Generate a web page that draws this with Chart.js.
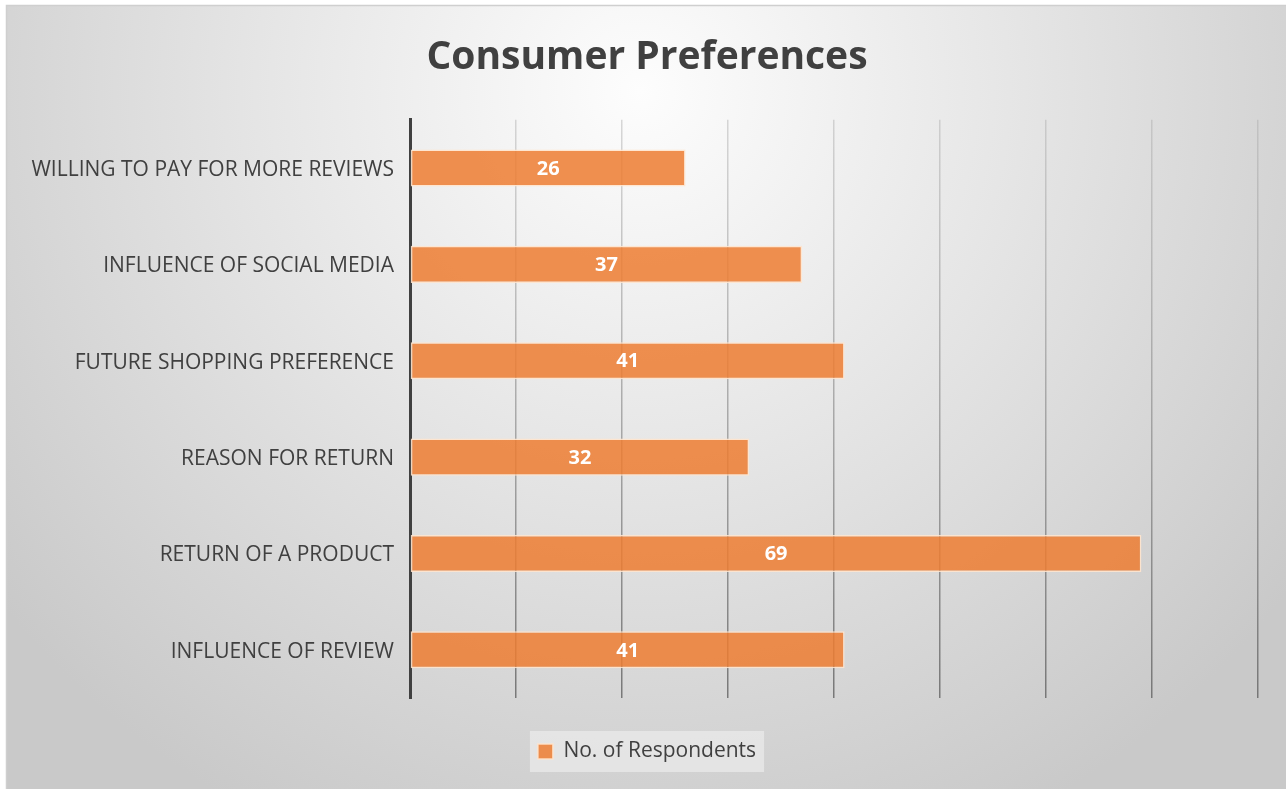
<!DOCTYPE html>
<html>
<head>
<meta charset="utf-8">
<script src="https://cdn.jsdelivr.net/npm/chart.js@4.4.1/dist/chart.umd.min.js"></script>
<style>
  html, body { margin: 0; padding: 0; background: #fff; }
  #wrap { width: 1286px; height: 789px; position: relative; }
</style>
</head>
<body>
<div id="wrap"><canvas id="myChart" width="1286" height="789"></canvas></div>
<script>
// data
const categories = [
  "WILLING TO PAY FOR MORE REVIEWS",
  "INFLUENCE OF SOCIAL MEDIA",
  "FUTURE SHOPPING PREFERENCE",
  "REASON FOR RETURN",
  "RETURN OF A PRODUCT",
  "INFLUENCE OF REVIEW"
];
const respondents = [26, 37, 41, 32, 69, 41];
const seriesName = "No. of Respondents";
const xMax = 80;
const xStep = 10;

const textColor = "#404040";

// background, frame and legend box
const bgPlugin = {
  id: "bgPlugin",
  afterLayout(chart) {
    // title and legend sit a bit right of the full-width centre
    const dx = 15;
    [chart.titleBlock, chart.legend].forEach(b => {
      if (b) { b.left += dx; b.right += dx; }
    });
    if (chart.legend && chart.legend.legendHitBoxes) {
      chart.legend.legendHitBoxes.forEach(h => { h.left += dx; });
    }
  },
  beforeDraw(chart) {
    const c = chart.ctx;
    const w = chart.width, h = chart.height;
    c.save();
    c.fillStyle = "#ffffff";
    c.fillRect(0, 0, w, h);
    const g = c.createRadialGradient(640, 90, 0, 640, 90, 820);
    g.addColorStop(0, "#fdfdfd");
    g.addColorStop(0.45, "#e6e6e6");
    g.addColorStop(1, "#c9c9c9");
    c.fillStyle = g;
    c.fillRect(6, 5, w - 6, h - 5);
    c.strokeStyle = "#cfcfcf";
    c.lineWidth = 1.5;
    c.strokeRect(6.5, 5.5, w, h);
    // legend background box
    const boxes = chart.legend && chart.legend.legendHitBoxes;
    if (boxes && boxes.length) {
      const b = boxes[0];
      c.fillStyle = "rgba(240,240,240,0.6)";
      c.fillRect(b.left - 8, b.top - 10, b.width + 16, b.height + 20);
    }
    c.restore();
  }
};

// value labels in the middle of each bar
const valueLabels = {
  id: "valueLabels",
  afterDatasetsDraw(chart) {
    const c = chart.ctx;
    const meta = chart.getDatasetMeta(0);
    c.save();
    c.fillStyle = "#ffffff";
    c.font = "bold 20px 'Open Sans'";
    c.textAlign = "center";
    c.textBaseline = "middle";
    meta.data.forEach((bar, i) => {
      const cx = (bar.x + bar.base) / 2;
      c.fillText(String(chart.data.datasets[0].data[i]), cx, bar.y + 1);
    });
    c.restore();
  }
};

const ctx = document.getElementById("myChart").getContext("2d");

const config = {
  type: "bar",
  data: {
    labels: categories,
    datasets: [{
      label: seriesName,
      data: respondents,
      backgroundColor: "rgba(237,125,49,0.85)",
      borderColor: "rgba(255,228,205,0.9)",
      borderWidth: 1.5,
      borderSkipped: false,
      barPercentage: 0.385,
      categoryPercentage: 1
    }]
  },
  options: {
    indexAxis: "y",
    responsive: false,
    animation: false,
    layout: { padding: { left: 6, right: 28, top: 0, bottom: 17 } },
    scales: {
      x: {
        min: 0,
        max: xMax,
        ticks: { display: false, stepSize: xStep },
        grid: {
          drawTicks: false,
          lineWidth: 1.5,
          color: (context) => {
            const { ctx: c2, chartArea } = context.chart;
            if (!chartArea) return "#999";
            const g = c2.createLinearGradient(0, chartArea.top, 0, chartArea.bottom);
            g.addColorStop(0, "rgba(170,170,170,0.45)");
            g.addColorStop(1, "rgba(110,110,110,0.9)");
            return g;
          }
        },
        border: { display: false },
        afterFit: (s) => { s.height = 33; }
      },
      y: {
        grid: { display: false, drawTicks: false },
        border: { display: true, color: "#404040", width: 3 },
        ticks: {
          color: textColor,
          padding: 16,
          labelOffset: 2,
          font: { family: "'Open Sans'", size: 21 }
        },
        afterFit: (s) => { s.width = 404; }
      }
    },
    plugins: {
      title: {
        display: true,
        text: "Consumer Preferences",
        color: textColor,
        font: { family: "'Open Sans'", size: 39, weight: "bold" },
        padding: { top: 34, bottom: 39 }
      },
      legend: {
        display: true,
        position: "bottom",
        labels: {
          color: textColor,
          boxWidth: 15,
          boxHeight: 15,
          font: { family: "'Open Sans'", size: 21 }
        }
      },
      tooltip: { enabled: false }
    }
  },
  plugins: [bgPlugin, valueLabels]
};

const chart = new Chart(ctx, config);
</script>
</body>
</html>
